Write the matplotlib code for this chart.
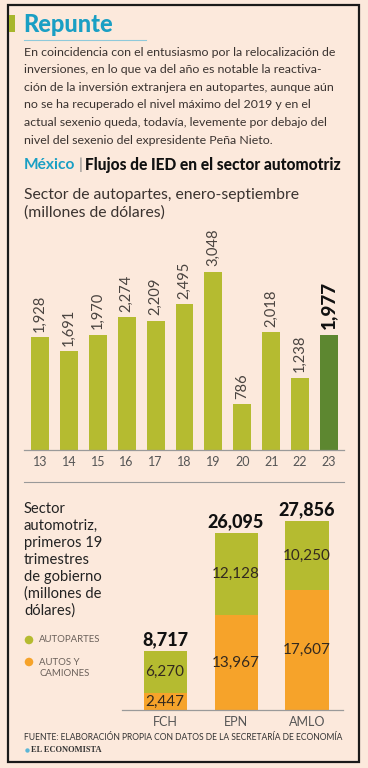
import matplotlib
matplotlib.use('Agg')
from matplotlib import pyplot as plt
from matplotlib.patches import Rectangle

plt.rcParams['font.family'] = ['Lato', 'DejaVu Sans']

# datos
years = ['13', '14', '15', '16', '17', '18', '19', '20', '21', '22', '23']
autopartes = [1928, 1691, 1970, 2274, 2209, 2495, 3048, 786, 2018, 1238, 1977]

sexenios = ['FCH', 'EPN', 'AMLO']
sex_autopartes = [6270, 12128, 10250]
sex_autos = [2447, 13967, 17607]
sex_total = [8717, 26095, 27856]

BG = '#fce9dc'
GREEN = '#b5bb30'
DGREEN = '#5d8730'
ORANGE = '#f6a32a'
TEAL = '#1a9fc4'
TXT = '#3a3330'
W, H = 368, 768

fig = plt.figure(figsize=(W / 100, H / 100), dpi=100, facecolor=BG)


def px_axes(x0, y0, x1, y1):
    # pixel box (y desde arriba) -> axes
    return fig.add_axes([x0 / W, 1 - y1 / H, (x1 - x0) / W, (y1 - y0) / H])


bg = fig.add_axes([0, 0, 1, 1])
bg.set_xlim(0, W)
bg.set_ylim(H, 0)
bg.axis('off')
bg.patch.set_alpha(0)

# marco
bg.add_patch(Rectangle((8, 5), 351, 757, fill=False, lw=1.6, ec='#1a1a1a'))
bg.add_patch(Rectangle((9, 15), 6, 17, color='#a7b62c', lw=0))
bg.plot([24, 146], [40, 40], color='#8fc9da', lw=0.8)

bg.text(23, 24, 'Repunte', fontsize=17, fontweight='black', color=TEAL, va='center')

parrafo = ['En coincidencia con el entusiasmo por la relocalización de',
           'inversiones, en lo que va del año es notable la reactiva-',
           'ción de la inversión extranjera en autopartes, aunque aún',
           'no se ha recuperado el nivel máximo del 2019 y en el',
           'actual sexenio queda, todavía, levemente por debajo del',
           'nivel del sexenio del expresidente Peña Nieto.']
for i, linea in enumerate(parrafo):
    bg.text(24, 52 + i * 17.6, linea, fontsize=8.9, color=TXT, va='center')

# subtitulo con colores
fig.canvas.draw()
r = fig.canvas.get_renderer()
t1 = bg.text(24, 165, 'México', fontsize=11.2, fontweight='bold', color=TEAL, va='center')
x = t1.get_window_extent(r).x1 + 3
t2 = bg.text(x, 165, '|', fontsize=11.2, color='#888888', va='center')
x = t2.get_window_extent(r).x1 + 3
bg.text(x, 165, 'Flujos de IED en el sector automotriz', fontsize=11.2,
        fontweight='black', color='#111111', va='center')

bg.text(24, 195, 'Sector de autopartes, enero-septiembre', fontsize=11.3,
        color=TXT, va='center')
bg.text(24, 213, '(millones de dólares)', fontsize=11.3, color=TXT, va='center')

# grafica 1
ax1 = px_axes(24, 230, 344, 450)
ax1.set_facecolor('none')
xs = list(range(len(years)))
colores = [GREEN] * (len(years) - 1) + [DGREEN]
ax1.bar(xs, autopartes, width=0.62, color=colores)
ax1.set_xlim(-0.554, 10.52)
ax1.set_ylim(0, 220 / 0.0584)
for i, v in enumerate(autopartes):
    ultimo = i == len(autopartes) - 1
    ax1.annotate(f'{v:,}', (i, v), xytext=(0, 4), textcoords='offset points',
                 rotation=90, ha='center', va='bottom',
                 fontsize=13.5 if ultimo else 10.6,
                 fontweight='black' if ultimo else 'normal',
                 color='#111111' if ultimo else '#4a4440')
ax1.set_xticks(xs, years)
ax1.tick_params(axis='x', length=0, labelsize=9, labelcolor='#555555', pad=4)
ax1.set_yticks([])
for s in ['top', 'right', 'left']:
    ax1.spines[s].set_visible(False)
ax1.spines['bottom'].set_color('#9a9a9a')
ax1.spines['bottom'].set_linewidth(0.9)

bg.plot([24, 344], [482, 482], color='#999999', lw=0.8)

# grafica 2
izq = ['Sector', 'automotriz,', 'primeros 19', 'trimestres', 'de gobierno',
       '(millones de', 'dólares)']
for i, linea in enumerate(izq):
    bg.text(24, 509 + i * 17, linea, fontsize=10.6, color='#222222', va='center')

bg.scatter([29, 29], [640, 662], s=38, color=[GREEN, ORANGE], lw=0)
bg.text(39, 640, 'AUTOPARTES', fontsize=6.9, color='#6a605a', va='center')
bg.text(39, 668, 'AUTOS Y\nCAMIONES', fontsize=6.9, color='#6a605a', va='center',
        linespacing=1.15)

ax2 = px_axes(122, 490, 343, 710)
ax2.set_facecolor('none')
xs2 = list(range(len(sexenios)))
ax2.bar(xs2, sex_autos, width=0.606, color=ORANGE)
ax2.bar(xs2, sex_autopartes, width=0.606, bottom=sex_autos, color=GREEN)
ax2.set_xlim(-0.606, 2.507)
ax2.set_ylim(0, 220 / 0.00679)
for i in xs2:
    ax2.text(i, sex_autos[i] / 2, f'{sex_autos[i]:,}', ha='center', va='center',
             fontsize=11, color='#33291f')
    ax2.text(i, sex_autos[i] + sex_autopartes[i] / 2, f'{sex_autopartes[i]:,}',
             ha='center', va='center', fontsize=11, color='#33291f')
    ax2.annotate(f'{sex_total[i]:,}', (i, sex_total[i]), xytext=(0, 2),
                 textcoords='offset points', ha='center', va='bottom',
                 fontsize=13, fontweight='black', color='#111111')
ax2.set_xticks(xs2, sexenios)
ax2.tick_params(axis='x', length=0, labelsize=9, labelcolor='#555555', pad=4)
ax2.set_yticks([])
for s in ['top', 'right', 'left']:
    ax2.spines[s].set_visible(False)
ax2.spines['bottom'].set_color('#9a9a9a')
ax2.spines['bottom'].set_linewidth(0.9)

bg.text(24, 737, 'FUENTE: ELABORACIÓN PROPIA CON DATOS DE LA SECRETARÍA DE ECONOMÍA',
        fontsize=6.15, color='#333333', va='center')
bg.scatter([27], [750], s=10, color='#5bb6d6', lw=0)
bg.text(31, 750.5, 'EL ECONOMISTA', fontsize=6, fontweight='bold',
        family=['Liberation Serif', 'DejaVu Serif'], color='#333333', va='center')

fig.savefig('out.png', dpi=100, facecolor=BG)
